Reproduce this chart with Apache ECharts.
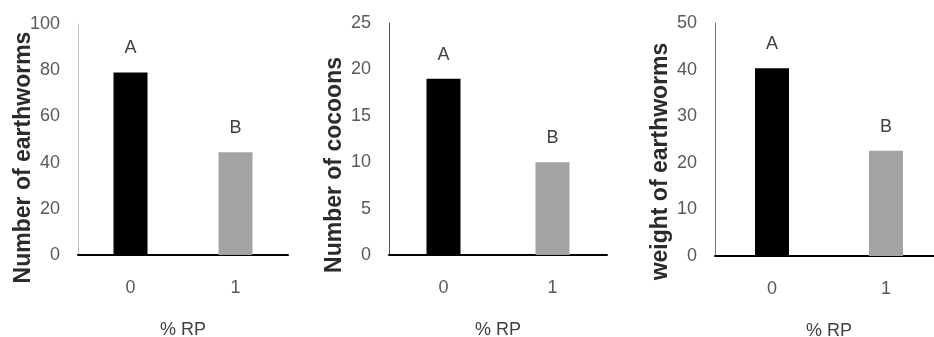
<!DOCTYPE html>
<html>
<head>
<meta charset="utf-8">
<script src="https://cdn.jsdelivr.net/npm/echarts@6/dist/echarts.min.js"></script>
<style>
  html, body { margin: 0; padding: 0; background: #fff; }
  #chart { width: 934px; height: 337px; }
</style>
</head>
<body>
<div id="chart"></div>
<script>
(function () {
    "use strict";
    // data
    var categories = ['0', '1'];
    var letters = ['A', 'B'];
    var earthworms = [79, 44.5];
    var cocoons = [19, 10];
    var weights = [40.3, 22.6];
    var yNames = ['Number of earthworms', 'Number of cocoons', 'weight of earthworms'];
    var yMax = [100, 25, 50];
    var yStep = [20, 5, 10];
    var xName = '% RP';

    var font = "'Liberation Sans', sans-serif";
    var barColors = ['#000000', '#a3a3a3'];
    var axisColors = ['#b9c6d4', '#555555', '#777777'];
    var namePad = [[0, 36, 0, 0], [0, 52, 0, 0], [0, 44, 0, 0]];
    var allValues = [earthworms, cocoons, weights];

    var grids = [
        { left: 78, top: 24, width: 210, height: 231, outerBoundsMode: 'none', containLabel: false },
        { left: 389, top: 23, width: 218, height: 232, outerBoundsMode: 'none', containLabel: false },
        { left: 715, top: 23, width: 228, height: 233, outerBoundsMode: 'none', containLabel: false }
    ];

    var xAxes = [], yAxes = [], series = [];
    for (var i = 0; i < 3; i++) {
        xAxes.push({
            type: 'category',
            gridIndex: i,
            data: categories,
            name: xName,
            nameLocation: 'middle',
            nameGap: 66,
            nameMoveOverlap: false,
            nameTextStyle: { fontFamily: font, fontSize: 18, color: '#404040' },
            axisLine: { lineStyle: { color: '#000', width: 2 } },
            axisTick: { show: false },
            axisLabel: { fontFamily: font, fontSize: 18, color: '#595959', margin: 24 }
        });
        yAxes.push({
            type: 'value',
            gridIndex: i,
            min: 0,
            max: yMax[i],
            interval: yStep[i],
            name: yNames[i],
            nameLocation: 'middle',
            nameGap: 43,
            nameMoveOverlap: false,
            nameTextStyle: {
                fontFamily: font, fontSize: 23, fontWeight: 'bold',
                color: '#2b2b2b', padding: namePad[i]
            },
            axisLine: { show: true, lineStyle: { color: axisColors[i], width: 1 } },
            axisTick: { show: false },
            splitLine: { show: false },
            axisLabel: { fontFamily: font, fontSize: 18, color: '#595959', margin: 18 }
        });
        series.push({
            type: 'bar',
            xAxisIndex: i,
            yAxisIndex: i,
            barWidth: 34,
            data: allValues[i].map(function (v, k) {
                return { value: v, itemStyle: { color: barColors[k] } };
            }),
            label: {
                show: true,
                position: 'top',
                distance: 15,
                fontFamily: font,
                fontSize: 18,
                color: '#404040',
                formatter: function (p) { return letters[p.dataIndex]; }
            }
        });
    }

    var chart = echarts.init(document.getElementById('chart'));
    chart.setOption({
        backgroundColor: '#fff',
        animation: false,
        grid: grids,
        xAxis: xAxes,
        yAxis: yAxes,
        series: series
    });
})();
</script>
</body>
</html>
